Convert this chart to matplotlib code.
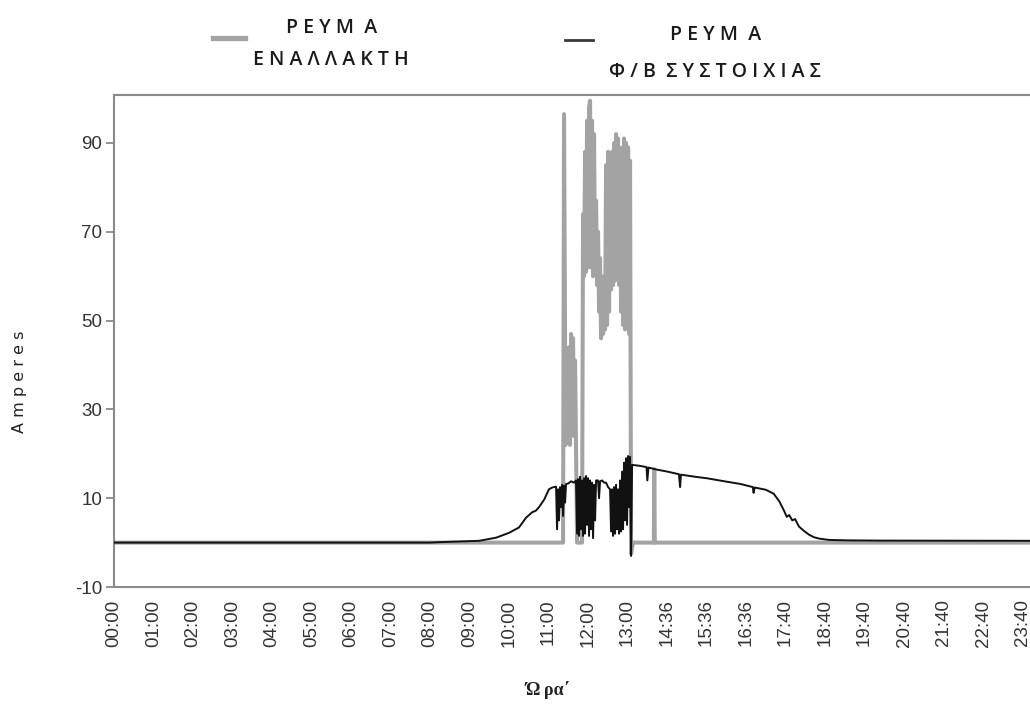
import matplotlib
matplotlib.use("Agg")
import matplotlib.pyplot as plt
from matplotlib.lines import Line2D

plt.rcParams["axes.unicode_minus"] = False

# ---------------- data ----------------
tick_labels = ["00:00", "01:00", "02:00", "03:00", "04:00", "05:00", "06:00",
               "07:00", "08:00", "09:00", "10:00", "11:00", "12:00", "13:00",
               "14:36", "15:36", "16:36", "17:40", "18:40", "19:40", "20:40",
               "21:40", "22:40", "23:40"]
y_ticks = [-10, 10, 30, 50, 70, 90]

# inverter (AC) current -- x in tick-slot units
ac_pos = [0.0, 11.367, 11.392, 11.430,
          11.468, 11.494, 11.519, 11.544, 11.570, 11.595, 11.620, 11.646, 11.671, 11.696,
          11.722, 11.848,
          11.873, 11.899, 11.924, 11.949, 11.975, 12.000, 12.025, 12.051, 12.076, 12.101,
          12.127, 12.152, 12.177, 12.203, 12.228, 12.253, 12.278, 12.304, 12.329, 12.354,
          12.380, 12.405, 12.430, 12.456, 12.481, 12.506, 12.532, 12.557, 12.582, 12.608,
          12.633, 12.658, 12.684, 12.709, 12.734, 12.759, 12.785, 12.810, 12.835, 12.861,
          12.886, 12.911, 12.937, 12.962, 12.987, 13.013, 13.038, 13.063,
          13.089, 13.139, 13.665, 13.675, 13.690, 23.44]
ac_amps = [0.0, 0.0, 96.5, 22.0,
           40, 25, 44, 22, 47, 27, 46, 24, 41, 21,
           0.0, 0.0,
           74, 60, 88, 61, 95, 62, 98, 99.5, 62, 95,
           60, 92, 61, 77, 58, 70, 52, 64, 46, 58,
           47, 60, 48, 85, 49, 88, 52, 87, 57, 88,
           58, 90, 59, 92, 60, 91, 58, 88, 52, 89,
           49, 91, 48, 90, 50, 89, 47, 86,
           -2.5, 0.0, 0.0, 16.5, 0.0, 0.0]

# PV array current
pv_pos = [0.0, 8.0, 8.23, 9.24, 9.67, 10.0, 10.25, 10.43, 10.58, 10.68, 10.76,
          10.89, 11.01, 11.09, 11.19,
          11.215, 11.241, 11.266, 11.291, 11.316, 11.342, 11.367, 11.392, 11.418, 11.443,
          11.494, 11.570, 11.646, 11.696,
          11.722, 11.747, 11.772, 11.797, 11.823, 11.848, 11.873, 11.899, 11.924, 11.949,
          11.975, 12.000, 12.025, 12.051, 12.076, 12.101, 12.127, 12.152, 12.177, 12.203,
          12.253, 12.278, 12.304, 12.354, 12.405, 12.456, 12.506, 12.557,
          12.582, 12.608, 12.633, 12.658, 12.684, 12.709, 12.734, 12.759, 12.785, 12.810,
          12.835, 12.861, 12.886, 12.911, 12.937, 12.962, 12.987, 13.013, 13.038, 13.063,
          13.089, 13.114,
          13.30, 13.48, 13.50, 13.53, 13.76, 14.0, 14.30, 14.33, 14.35, 14.73, 15.0,
          15.52, 15.86, 16.17, 16.19, 16.22, 16.5, 16.7, 16.84, 16.96, 17.03, 17.09,
          17.17, 17.24, 17.34, 17.47, 17.59, 17.72, 17.85, 18.1, 18.6, 19.4, 23.44]
pv_amps = [0.0, 0.0, 0.1, 0.4, 1.1, 2.2, 3.4, 5.6, 6.8, 7.2, 8.0,
           9.7, 12.0, 12.4, 12.6,
           3, 12, 5, 12.5, 8, 13, 6, 12.8, 9, 13.2,
           13.3, 13.8, 13.5, 14,
           2, 14.3, 1.5, 14.8, 3, 14, 1.5, 14.5, 2, 15,
           4, 14.5, 1.5, 14, 3, 13.5, 1.0, 13, 5, 14,
           14, 10, 13.8, 14, 13.5, 13.5, 12.5, 12,
           2.5, 12, 1.5, 12.5, 2, 13, 3, 12, 2, 14,
           2.5, 16, 3, 18, 5, 19, 4, 19.5, 8, 19.3,
           -3, 17.5,
           17.3, 17.0, 14.0, 16.9, 16.4, 16.0, 15.4, 12.5, 15.3, 14.8, 14.5,
           13.7, 13.2, 12.5, 11.2, 12.4, 11.9, 11.0, 9.3, 7.2, 5.8, 6.2,
           5.0, 5.3, 3.6, 2.6, 1.8, 1.2, 0.9, 0.6, 0.5, 0.45, 0.4]

series_labels = ["Ρ Ε Υ Μ  Α\nΕ Ν Α Λ Λ Α Κ Τ Η", "Ρ Ε Υ Μ  Α\nΦ / Β  Σ Υ Σ Τ Ο Ι Χ Ι Α Σ"]

# ---------------- figure ----------------
W, H = 1030, 705
fig = plt.figure(figsize=(W / 100, H / 100), dpi=100)
fig.patch.set_facecolor("white")

ax = fig.add_axes([114 / W, (H - 587) / H, (1040 - 114) / W, (587 - 95) / H])

grey = "#a3a3a3"
dark = "#111111"
ax.plot(ac_pos, ac_amps, color=grey, lw=2.9, solid_joinstyle="round", zorder=2,
        label=series_labels[0])
ax.plot(pv_pos, pv_amps, color=dark, lw=1.4, solid_joinstyle="round", zorder=3,
        label=series_labels[1])

ax.set_xlim(0, 23.44)
ax.set_ylim(-10, 100.8)
ax.set_yticks(y_ticks)
ax.set_xticks(range(len(tick_labels)))
ax.set_xticklabels(tick_labels, rotation=90, fontsize=13.5, family="Liberation Sans",
                   color="#333333")
for t in ax.get_yticklabels():
    t.set_fontsize(13.5)
    t.set_family("Liberation Sans")
    t.set_color("#333333")
ax.tick_params(axis="x", length=0, pad=9)
ax.tick_params(axis="y", length=6, width=1.2, color="#808080", pad=2.5)

for s in ["left", "top", "bottom"]:
    ax.spines[s].set_color("#8a8a8a")
    ax.spines[s].set_linewidth(1.5)
ax.spines["right"].set_visible(False)

ax.set_ylabel("A m p e r e s", fontsize=11.5, family="DejaVu Sans", color="#222222")
ax.yaxis.set_label_coords((20 - 114) / (1040 - 114), (587 - 382) / 492)
ax.yaxis.label.set_va("center")
ax.set_xlabel("Ώ ρα΄", fontsize=13, family="Liberation Serif", weight="bold",
              color="#222222")
ax.xaxis.set_label_coords((548 - 114) / (1040 - 114), (587 - 690) / 492)
ax.xaxis.label.set_va("center")

# ---------------- legend (drawn above the plot) ----------------
def fx(px):
    return px / W

def fy(py):
    return (H - py) / H

fig.add_artist(Line2D([fx(213), fx(245)], [fy(38), fy(38)], color=grey, lw=3.8))
fig.add_artist(Line2D([fx(565), fx(593)], [fy(40), fy(40)], color="#3a3a3a", lw=2.0))
leg_font = dict(fontsize=14, family="Open Sans", weight="semibold", color="#1a1a1a",
                ha="center", va="center")
l1a, l1b = series_labels[0].split("\n")
l2a, l2b = series_labels[1].split("\n")
fig.text(fx(332), fy(28), l1a, **leg_font)
fig.text(fx(331), fy(60), l1b, **leg_font)
fig.text(fx(716), fy(35), l2a, **leg_font)
fig.text(fx(715), fy(72), l2b, **leg_font)

fig.savefig("out.png", dpi=100, facecolor="white")
